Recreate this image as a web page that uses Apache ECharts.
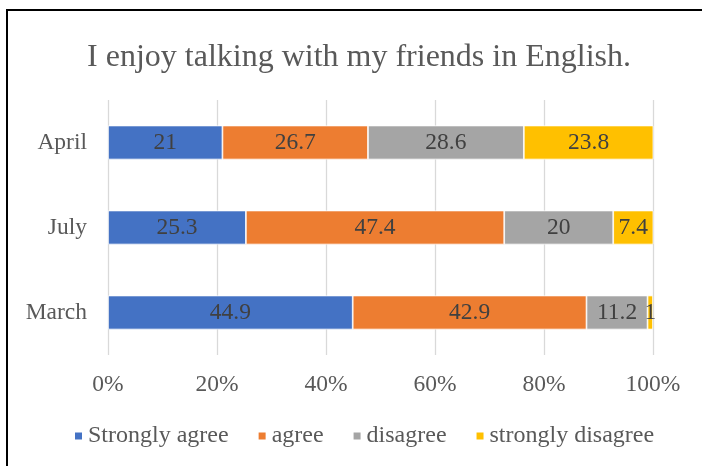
<!DOCTYPE html>
<html>
<head>
<meta charset="utf-8">
<script src="https://cdn.jsdelivr.net/npm/echarts@6/dist/echarts.min.js"></script>
<style>
  html, body { margin: 0; padding: 0; background: #fff; }
  #chart { width: 702px; height: 466px; }
</style>
</head>
<body>
<div id="chart"></div>
<script>
// Survey months, bottom to top
var months = ['March', 'July', 'April'];

// Response shares per month (same order as months)
var stronglyAgree    = [44.9, 25.3, 21];
var agree            = [42.9, 47.4, 26.7];
var disagree         = [11.2, 20, 28.6];
var stronglyDisagree = [1, 7.4, 23.8];

var seriesNames  = ['Strongly agree', 'agree', 'disagree', 'strongly disagree'];
var seriesColors = ['#4472C4', '#ED7D31', '#A5A5A5', '#FFC000'];
var seriesData   = [stronglyAgree, agree, disagree, stronglyDisagree];

var FONT = '"Liberation Serif", "Times New Roman", serif';

var chart = echarts.init(document.getElementById('chart'), null, { renderer: 'canvas' });

var series = seriesNames.map(function (name, i) {
  return {
    name: name,
    type: 'bar',
    stack: 'total',
    barWidth: '40%',
    data: seriesData[i],
    itemStyle: { color: seriesColors[i], borderColor: '#ffffff', borderWidth: 0.75 },
    label: {
      show: true,
      position: 'inside',
      color: '#404040',
      fontFamily: FONT,
      fontSize: 23.5
    },
    emphasis: { disabled: true }
  };
});

chart.setOption({
  animation: false,
  backgroundColor: '#ffffff',
  title: {
    text: 'I enjoy talking with my friends in English.',
    left: 359,
    top: 42,
    padding: 0,
    textAlign: 'center',
    textStyle: {
      fontFamily: FONT,
      fontSize: 32,
      fontWeight: 'normal',
      color: '#595959'
    }
  },
  legend: {
    data: seriesNames,
    left: 73,
    top: 424,
    padding: 0,
    itemWidth: 9,
    itemHeight: 9,
    itemGap: 28,
    icon: 'rect',
    textStyle: { fontFamily: FONT, fontSize: 24, color: '#595959' }
  },
  grid: { left: 108, right: 49, top: 100, bottom: 111, containLabel: false },
  xAxis: {
    type: 'value',
    min: 0,
    max: 100,
    interval: 20,
    axisLine: { show: false },
    axisTick: { show: false },
    splitLine: { show: true, lineStyle: { color: '#D9D9D9', width: 1.3 } },
    axisLabel: {
      formatter: '{value}%',
      margin: 18,
      fontFamily: FONT,
      fontSize: 23.5,
      color: '#595959'
    }
  },
  yAxis: {
    type: 'category',
    data: months,
    axisLine: { show: false },
    axisTick: { show: false },
    axisLabel: {
      margin: 21,
      fontFamily: FONT,
      fontSize: 23.5,
      color: '#595959'
    }
  },
  graphic: [{
    type: 'rect',
    shape: { x: 7, y: 10, width: 800, height: 800 },
    style: { fill: null, stroke: '#000000', lineWidth: 2 },
    silent: true,
    z: 100
  }],
  series: series
});
</script>
</body>
</html>
